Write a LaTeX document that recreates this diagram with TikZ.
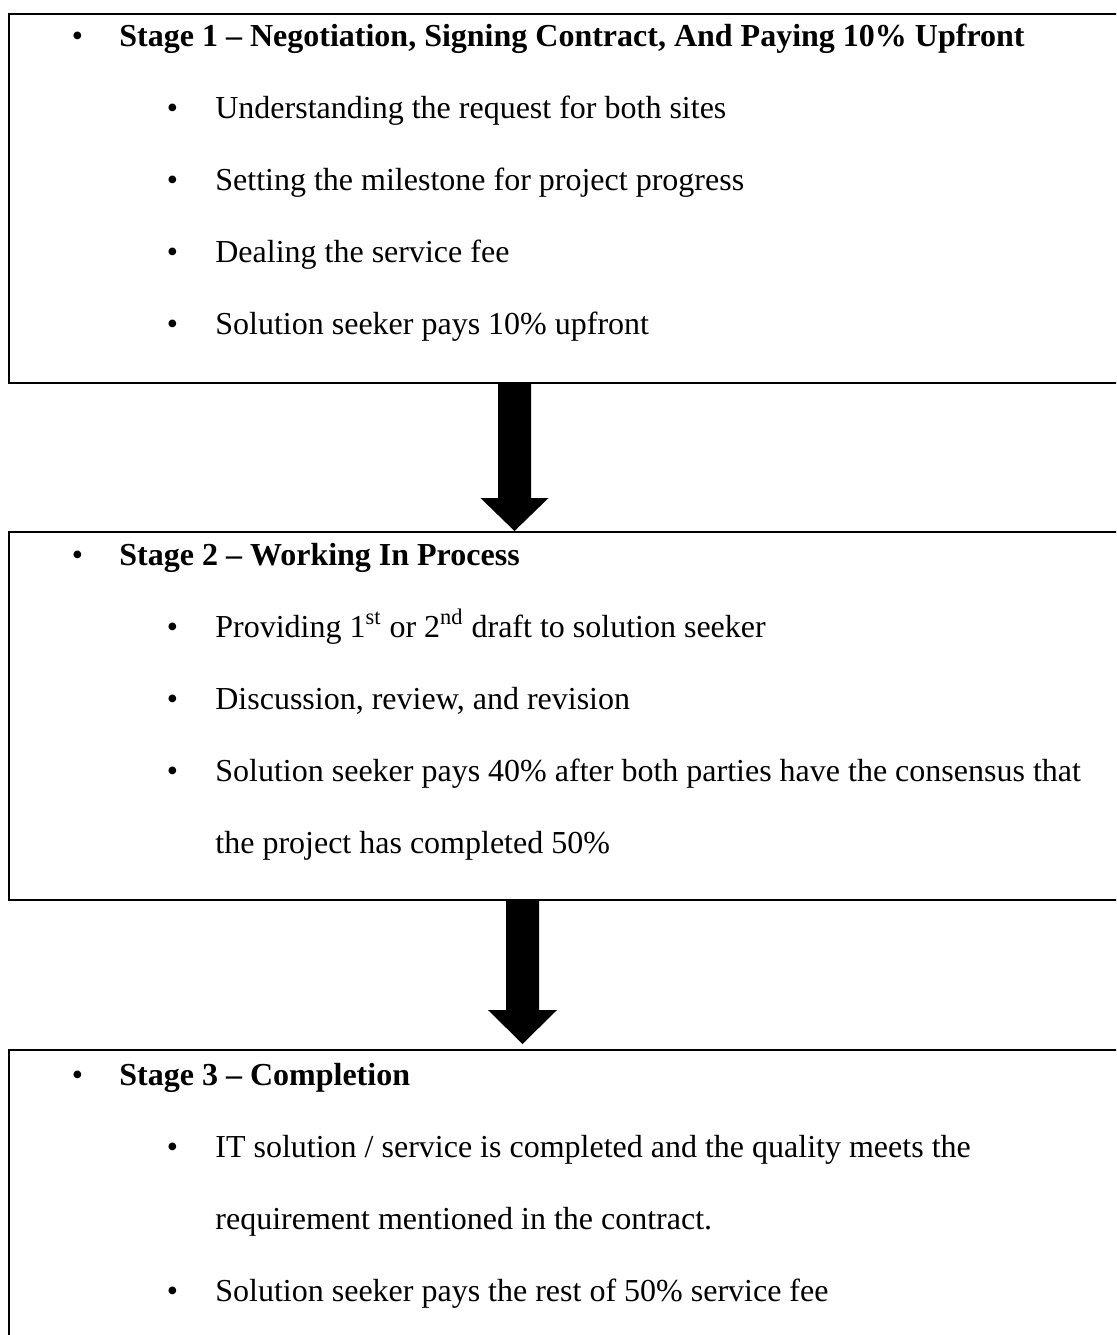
\documentclass[tikz,border=0pt]{standalone}
\usepackage{fontspec}
\setmainfont{Liberation Serif}
\usepackage{tikz}
\usetikzlibrary{calc}

\tikzset{
  stagebox/.style={draw, line width=0.9pt, anchor=north west, inner sep=0pt, minimum width=562pt},
  stagetitle/.style={anchor=base west, inner sep=0pt, font=\fontsize{16}{19}\selectfont\bfseries},
  subline/.style={anchor=base west, inner sep=0pt, font=\fontsize{16}{19}\selectfont},
  blockarrow/.style={fill=black}
}

\begin{document}
\begin{tikzpicture}[x=0.5pt, y=-0.5pt]
        \useasboundingbox (0,0) rectangle (1116,1335);
        \clip (0,0) rectangle (1116,1335);

        % stage boxes
        \node[stagebox, minimum height=184.5pt] (s1) at (8,13) {};
        \node[stagebox, minimum height=184pt] (s2) at (8,531) {};
        \node[stagebox, minimum height=160pt] (s3) at (8,1049) {};

        % stage 1
        \node[stagetitle] (t1) at (71.4,46) {\makebox[23.8pt][l]{\mdseries\textbullet}Stage 1 -- Negotiation, Signing Contract, And Paying 10\% Upfront};
        \node[subline] (i11) at (166.4,118) {\makebox[24.3pt][l]{\textbullet}Understanding the request for both sites};
        \node[subline] (i12) at (166.4,190) {\makebox[24.3pt][l]{\textbullet}Setting the milestone for project progress};
        \node[subline] (i13) at (166.4,262) {\makebox[24.3pt][l]{\textbullet}Dealing the service fee};
        \node[subline] (i14) at (166.4,334) {\makebox[24.3pt][l]{\textbullet}Solution seeker pays 10\% upfront};

        % stage 2
        \node[stagetitle] (t2) at (71.4,565) {\makebox[23.8pt][l]{\mdseries\textbullet}Stage 2 -- Working In Process};
        \node[subline] (i21) at (166.4,637) {\makebox[24.3pt][l]{\textbullet}Providing 1\textsuperscript{st} or 2\textsuperscript{nd} draft to solution seeker};
        \node[subline] (i22) at (166.4,709) {\makebox[24.3pt][l]{\textbullet}Discussion, review, and revision};
        \node[subline] (i23) at (166.4,781) {\makebox[24.3pt][l]{\textbullet}Solution seeker pays 40\% after both parties have the consensus that};
        \node[subline] (i24) at (215,853) {the project has completed 50\%};

        % stage 3
        \node[stagetitle] (t3) at (71.4,1085) {\makebox[23.8pt][l]{\mdseries\textbullet}Stage 3 -- Completion};
        \node[subline] (i31) at (166.4,1157) {\makebox[24.3pt][l]{\textbullet}IT solution / service is completed and the quality meets the};
        \node[subline] (i32) at (215,1229) {requirement mentioned in the contract.};
        \node[subline] (i33) at (166.4,1301) {\makebox[24.3pt][l]{\textbullet}Solution seeker pays the rest of 50\% service fee};

        % arrows between stages
        \coordinate (a1t) at (514.5,0 |- s1.south);
        \coordinate (a1b) at (514.5,0 |- s2.north);
        \fill[blockarrow] (a1t) ++(-16.5,0) |- ($(a1b)+(-34,-33)$) -- (a1b) -- ++(34,-33) -| ($(a1t)+(16.5,0)$) -- cycle;

        \coordinate (a2t) at (522.5,0 |- s2.south);
        \coordinate (a2b) at ($(522.5,0 |- s3.north)+(0,-5)$);
        \fill[blockarrow] (a2t) ++(-16.5,0) |- ($(a2b)+(-34.5,-34)$) -- (a2b) -- ++(34.5,-34) -| ($(a2t)+(16.5,0)$) -- cycle;
    \end{tikzpicture}
\end{document}
